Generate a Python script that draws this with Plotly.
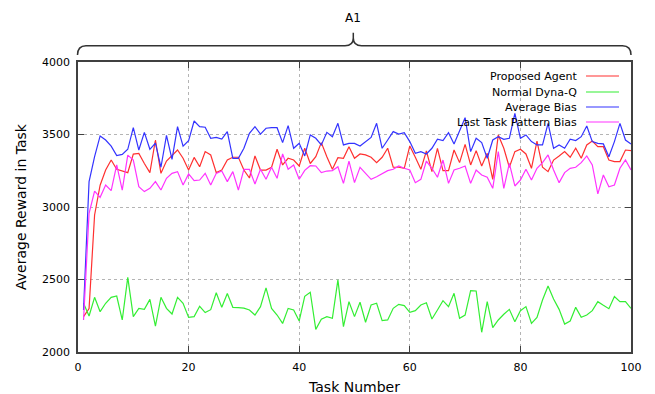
import plotly.graph_objects as go

tasks = list(range(1, 101))

proposed_agent = [2244, 2300, 2945, 3150, 3255, 3324, 3260, 3250, 3237, 3365,
                  3370, 3300, 3237, 3462, 3232, 3317, 3358, 3393, 3336, 3255,
                  3342, 3278, 3382, 3359, 3237, 3255, 3324, 3343, 3343, 3255,
                  3200, 3352, 3255, 3255, 3274, 3398, 3290, 3336, 3324, 3283,
                  3405, 3300, 3347, 3444, 3347, 3260, 3340, 3336, 3416, 3336,
                  3366, 3359, 3343, 3306, 3343, 3405, 3274, 3274, 3267, 3421,
                  3343, 3260, 3386, 3244, 3405, 3251, 3251, 3393, 3306, 3432,
                  3290, 3389, 3283, 3370, 3191, 3497, 3405, 3274, 3382, 3398,
                  3366, 3267, 3455, 3274, 3244, 3324, 3352, 3382, 3343, 3405,
                  3336, 3428, 3455, 3416, 3416, 3324, 3313, 3313, 3393, 3389]

normal_dynaq = [2336, 2248, 2377, 2278, 2336, 2377, 2386, 2221, 2515, 2244,
                2301, 2294, 2363, 2179, 2377, 2301, 2262, 2377, 2336, 2239,
                2244, 2315, 2272, 2292, 2409, 2308, 2404, 2308, 2306, 2303,
                2290, 2255, 2313, 2442, 2301, 2255, 2197, 2301, 2290, 2214,
                2384, 2412, 2156, 2226, 2244, 2233, 2497, 2175, 2347, 2244,
                2343, 2205, 2324, 2336, 2216, 2221, 2301, 2329, 2320, 2274,
                2285, 2324, 2340, 2228, 2290, 2354, 2313, 2405, 2233, 2255,
                2423, 2421, 2136, 2347, 2168, 2221, 2260, 2294, 2209, 2285,
                2313, 2198, 2239, 2359, 2455, 2366, 2294, 2193, 2214, 2308,
                2239, 2255, 2285, 2347, 2322, 2299, 2382, 2347, 2347, 2301]

average_bias = [2290, 3175, 3347, 3490, 3462, 3420, 3354, 3363, 3398, 3547,
                3393, 3515, 3398, 3440, 3274, 3494, 3329, 3554, 3420, 3457,
                3593, 3554, 3550, 3474, 3480, 3469, 3520, 3336, 3336, 3405,
                3508, 3554, 3503, 3543, 3547, 3547, 3444, 3561, 3405, 3439,
                3352, 3497, 3474, 3428, 3515, 3485, 3577, 3428, 3439, 3439,
                3421, 3451, 3480, 3577, 3405, 3462, 3520, 3503, 3513, 3451,
                3370, 3382, 3366, 3405, 3467, 3458, 3513, 3435, 3520, 3616,
                3382, 3474, 3444, 3336, 3462, 3485, 3467, 3474, 3646, 3474,
                3497, 3451, 3428, 3428, 3577, 3405, 3428, 3405, 3467, 3458,
                3485, 3559, 3451, 3439, 3435, 3347, 3451, 3577, 3462, 3435]

last_task_bias = [2221, 2956, 3110, 3067, 3152, 3113, 3290, 3117, 3358, 3324,
                  3140, 3106, 3129, 3175, 3117, 3198, 3232, 3244, 3152, 3228,
                  3182, 3186, 3232, 3152, 3232, 3248, 3175, 3244, 3117, 3260,
                  3260, 3159, 3260, 3191, 3274, 3198, 3366, 3260, 3290, 3191,
                  3253, 3285, 3283, 3237, 3248, 3251, 3278, 3163, 3317, 3168,
                  3274, 3232, 3191, 3209, 3228, 3251, 3260, 3283, 3267, 3255,
                  3168, 3191, 3317, 3267, 3205, 3324, 3163, 3255, 3267, 3283,
                  3163, 3255, 3221, 3205, 3129, 3382, 3129, 3301, 3145, 3186,
                  3260, 3186, 3267, 3306, 3359, 3255, 3168, 3237, 3267, 3274,
                  3306, 3352, 3290, 3090, 3221, 3140, 3152, 3267, 3324, 3255]

series_names = ["Proposed Agent", "Normal Dyna-Q", "Average Bias", "Last Task Pattern Bias"]
series_values = [proposed_agent, normal_dynaq, average_bias, last_task_bias]
series_colors = ["#ff3030", "#33ee33", "#3333ff", "#ff33ff"]

x_ticks = [0, 20, 40, 60, 80, 100]
y_ticks = [2000, 2500, 3000, 3500, 4000]
group_label = "A1"

# pixel geometry (figure coords; page body adds an 8px offset on screen)
OFF = 8
W, H = 655, 394
L, R, T, B = 70, 32, 54, 50
PW, PH = W - L - R, H - T - B


def px(x):
    """screen x pixel -> paper x"""
    return (x - OFF - L) / PW


def py(y):
    """screen y pixel -> paper y"""
    return (H - B - (y - OFF)) / PH


fig = go.Figure()
for name, vals, col in zip(series_names, series_values, series_colors):
    fig.add_trace(go.Scatter(x=tasks, y=vals, mode="lines", name=name,
                             line=dict(color=col, width=1.2), showlegend=False))

font_main = "DejaVu Sans"

shapes = []
annotations = []
# gnuplot-style legend: text right-aligned, sample line on the right
legend_rows = [76, 92, 107, 122]
for name, col, yrow in zip(series_names, series_colors, legend_rows):
    annotations.append(dict(x=px(579), y=py(yrow), xref="paper", yref="paper",
                            text=name, showarrow=False, xanchor="right",
                            yanchor="middle",
                            font=dict(family=font_main, size=11, color="#000")))
    shapes.append(dict(type="line", xref="paper", yref="paper",
                       x0=px(586), x1=px(619), y0=py(yrow), y1=py(yrow),
                       line=dict(color=col, width=1.2)))

# top brace
yb = 45.7
pts = [
    ("M", 77.5, 55), ("Q", 77.5, yb, 86, yb), ("L", 345, yb),
    ("Q", 353.3, yb, 353.3, 38), ("L", 353.3, 32.7),
    ("M", 353.3, 38), ("Q", 353.3, yb, 361.6, yb), ("L", 622.5, yb),
    ("Q", 631, yb, 631, 55),
]
path = ""
for p in pts:
    cmd = p[0]
    coords = p[1:]
    parts = []
    for i in range(0, len(coords), 2):
        parts.append(f"{px(coords[i]):.5f},{py(coords[i+1]):.5f}")
    path += cmd + " " + " ".join(parts) + " "
shapes.append(dict(type="path", xref="paper", yref="paper", path=path.strip(),
                   line=dict(color="#333333", width=1.5)))
annotations.append(dict(x=px(353.3), y=py(18), xref="paper", yref="paper",
                        text=group_label, showarrow=False, xanchor="center",
                        yanchor="middle",
                        font=dict(family=font_main, size=12, color="#000")))

axis_common = dict(
    showline=True, linecolor="#404040", linewidth=1.5, mirror="allticks",
    ticks="inside", ticklen=6, tickcolor="#404040", tickwidth=1,
    showgrid=True, gridcolor="#b4b4b4", griddash="dot", gridwidth=1,
    zeroline=False, automargin=False,
    tickfont=dict(family=font_main, size=11, color="#000"),
)

fig.update_layout(
    width=W, height=H,
    margin=dict(l=L, r=R, t=T, b=B),
    paper_bgcolor="white", plot_bgcolor="white",
    xaxis=dict(range=[0, 100], tickvals=x_ticks, ticklabelstandoff=4,
               title=dict(text="Task Number", standoff=9,
                          font=dict(family=font_main, size=14, color="#000")),
               **axis_common),
    yaxis=dict(range=[2000, 4000], tickvals=y_ticks, ticklabelstandoff=4,
               title=dict(text="Average Reward in Task", standoff=12,
                          font=dict(family=font_main, size=14, color="#000")),
               **axis_common),
    shapes=shapes, annotations=annotations, showlegend=False,
)

fig.write_html("out.html")
